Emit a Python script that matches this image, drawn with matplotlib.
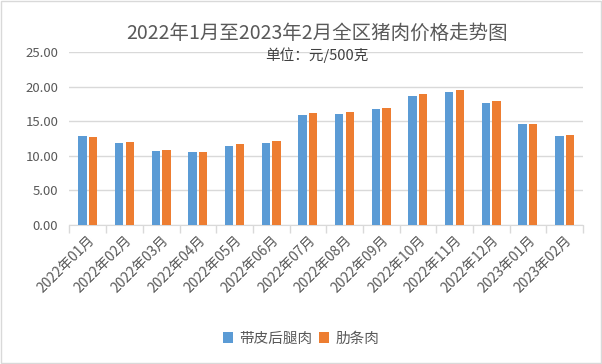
import numpy as np
import matplotlib
matplotlib.use("Agg")
from matplotlib import pyplot as plt
from matplotlib.patches import Rectangle

plt.rcParams['font.family'] = ['Noto Sans CJK SC', 'DejaVu Sans']

#%% Dados
meses = ['2022年01月', '2022年02月', '2022年03月', '2022年04月', '2022年05月',
         '2022年06月', '2022年07月', '2022年08月', '2022年09月', '2022年10月',
         '2022年11月', '2022年12月', '2023年01月', '2023年02月']
houtui = [12.90, 11.90, 10.75, 10.60, 11.45, 11.90, 15.95,
          16.10, 16.80, 18.70, 19.30, 17.70, 14.65, 12.90]
leitiao = [12.80, 12.05, 10.90, 10.60, 11.75, 12.15, 16.25,
           16.40, 16.95, 19.00, 19.55, 17.95, 14.65, 13.05]
series_nomes = ['带皮后腿肉', '肋条肉']
yticks = [0, 5, 10, 15, 20, 25]

azul = '#5B9BD5'
laranja = '#ED7D31'
cinza_txt = '#595959'
cinza_lin = '#D9D9D9'

#%% Figura
fig = plt.figure(figsize=(6.02, 3.64), dpi=100)
ax = fig.add_axes([0.1154, 0.3819, 0.853, 0.4739])

x = np.arange(len(meses))
w = 0.23
ax.bar(x - 0.145, houtui, width=w, color=azul, label=series_nomes[0], zorder=3)
ax.bar(x + 0.145, leitiao, width=w, color=laranja, label=series_nomes[1], zorder=3)

ax.set_xlim(-0.5, len(meses) - 0.5)
ax.set_ylim(0, 25)
ax.set_yticks(yticks)
ax.set_yticklabels([f'{v:.2f}' for v in yticks], fontsize=9.5, color=cinza_txt)
ax.yaxis.grid(True, color=cinza_lin, linewidth=1, zorder=0)
ax.tick_params(axis='y', length=0, pad=8)

ax.set_xticks(x)
ax.set_xticklabels(meses, rotation=45, ha='right', rotation_mode='anchor',
                   fontsize=10, color=cinza_txt)
ax.tick_params(axis='x', which='major', length=0, pad=6)
ax.set_xticks(np.arange(-0.5, len(meses), 1), minor=True)
ax.tick_params(axis='x', which='minor', length=6, color=cinza_lin, width=1)

for s in ['top', 'right', 'left']:
    ax.spines[s].set_visible(False)
ax.spines['bottom'].set_color(cinza_lin)

fig.text(0.527, 0.909, '2022年1月至2023年2月全区猪肉价格走势图',
         ha='center', va='center', fontsize=14, color=cinza_txt)
fig.text(0.527, 0.849, '单位：元/500克', ha='center', va='center',
         fontsize=10.5, color='#404040')

fig.legend(loc='center', bbox_to_anchor=(0.5, 0.07), ncol=2, frameon=False,
           fontsize=10.5, handlelength=0.7, handleheight=0.7,
           handletextpad=0.4, columnspacing=0.5, labelcolor=cinza_txt)

# borda da figura
fig.patches.append(Rectangle((0.002, 0.003), 0.996, 0.994, transform=fig.transFigure,
                             fill=False, edgecolor=cinza_lin, linewidth=1))

fig.savefig('out.png', dpi=100)
